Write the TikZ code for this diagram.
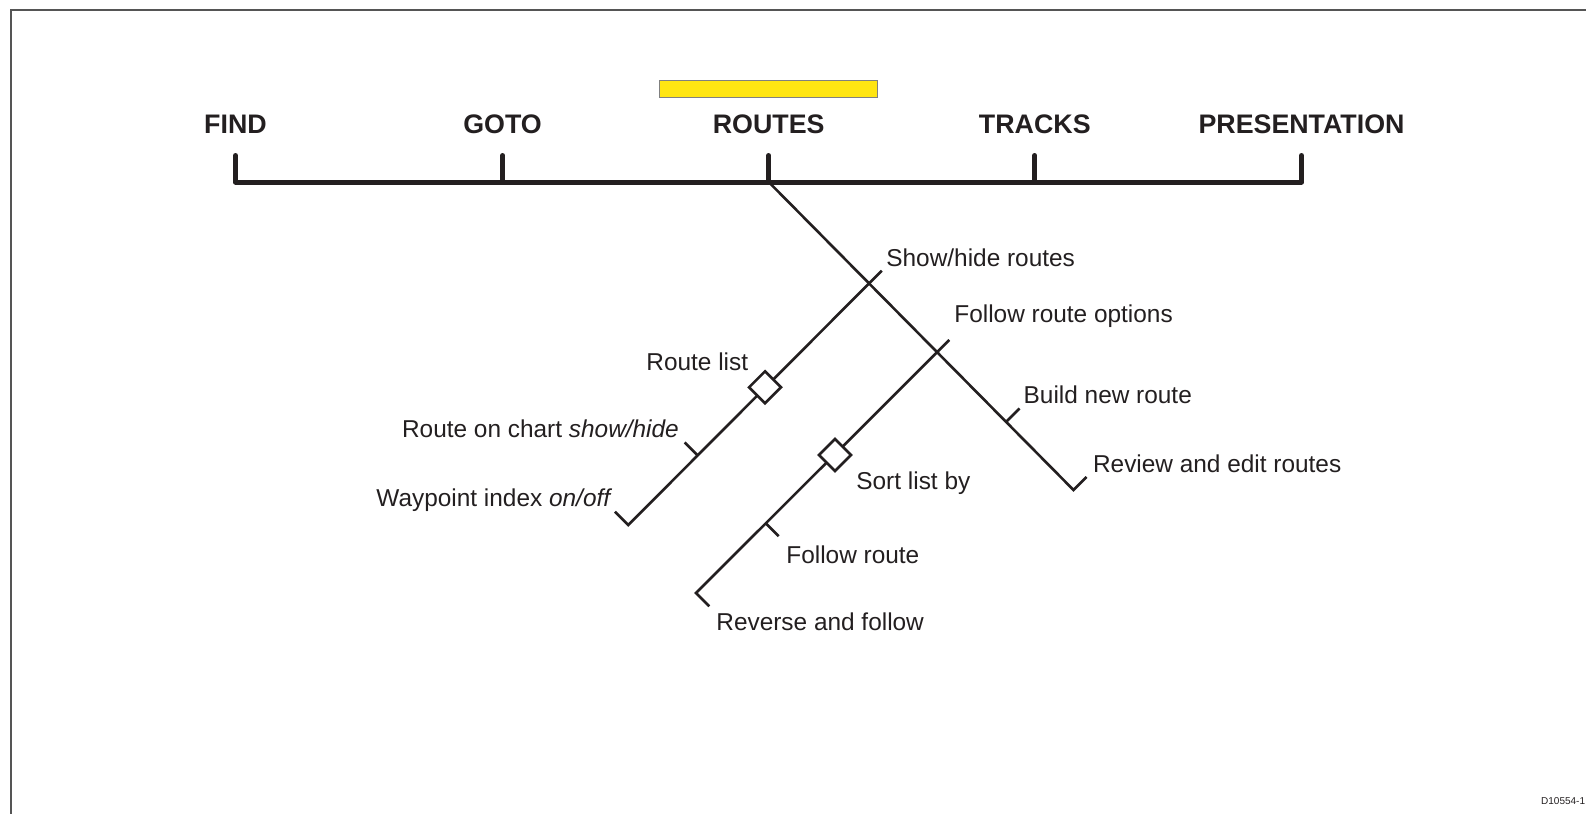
\documentclass[tikz,border=0pt]{standalone}
\usepackage{fontspec}
\setmainfont{Liberation Sans}
\usetikzlibrary{shapes.geometric}
\definecolor{ink}{RGB}{35,31,32}
\definecolor{framegray}{RGB}{85,85,85}
\definecolor{baryellow}{RGB}{255,229,18}
\begin{document}
\begin{tikzpicture}[x=0.5pt,y=-0.5pt,
  menu/.style={font=\fontsize{13.4}{15}\selectfont\bfseries,text=ink,inner sep=0pt,anchor=base},
  lbl/.style={font=\fontsize{12.2}{14}\selectfont,text=ink,inner sep=0pt,anchor=base west},
  bar/.style={draw=ink,line width=2.5pt,line cap=round,line join=round},
  thin/.style={draw=ink,line width=1.3pt,line join=miter},
  knot/.style={diamond,draw=ink,fill=white,line width=1.3pt,inner sep=0pt,minimum width=16.5pt,minimum height=16.5pt,aspect=1}]
\useasboundingbox (0,0) rectangle (1586,814);
% frame (left and top only visible)
\coordinate (fbl) at (10.5,814);
\coordinate (ftl) at (10.5,9.5);
\coordinate (ftr) at (1586,9.5);
\draw[framegray,line width=1pt] (fbl) -- (ftl) -- (ftr);
% yellow highlight bar
\node[draw=gray,fill=baryellow,line width=0.5pt,inner sep=0pt,minimum width=109pt,minimum height=8.5pt] (hl) at (768.7,88.5) {};
% menu labels
\node[menu] (find) at (235.5,133.3) {FIND};
\node[menu] (goto) at (502.6,133.3) {GOTO};
\node[menu] (routes) at (768.7,133.3) {ROUTES};
\node[menu] (tracks) at (1034.8,133.3) {TRACKS};
\node[menu] (pres) at (1301.5,133.3) {PRESENTATION};
% main bar
\coordinate (t1) at (235.5,155.5); \coordinate (b1) at (235.5,182);
\coordinate (t2) at (502.6,155.5); \coordinate (b2) at (502.6,182);
\coordinate (t3) at (768.7,155.5); \coordinate (b3) at (768.7,182);
\coordinate (t4) at (1034.8,155.5); \coordinate (b4) at (1034.8,182);
\coordinate (t5) at (1301.5,155.5); \coordinate (b5) at (1301.5,182);
\draw[bar] (t1) -- (b1) -- (b5) -- (t5);
\draw[bar] (t2) -- (b2);
\draw[bar] (t3) -- (b3);
\draw[bar] (t4) -- (b4);
% main diagonal
\coordinate (mend) at (1073.5,490);
\coordinate (mfoot) at (1086.5,477);
\draw[thin] (b3) -- (mend) -- (mfoot);
\coordinate (bnr) at (1006.5,421.5);
\coordinate (bnrt) at (1019.5,408.5);
\draw[thin] (bnr) -- (bnrt);
% branch 1: show/hide routes
\coordinate (s1top) at (881.7,270.7);
\coordinate (s1end) at (628.3,525);
\coordinate (s1foot) at (615,511.7);
\draw[thin] (s1top) -- (s1end) -- (s1foot);
\coordinate (rc) at (697.3,455);
\coordinate (rct) at (684.7,442.4);
\draw[thin] (rc) -- (rct);
\node[knot] (k1) at (765,387.3) {};
% branch 2: follow route options
\coordinate (s2top) at (949.3,340);
\coordinate (s2end) at (696,593);
\coordinate (s2foot) at (709.3,606.3);
\draw[thin] (s2top) -- (s2end) -- (s2foot);
\coordinate (fr) at (766,523.5);
\coordinate (frt) at (778.7,536.2);
\draw[thin] (fr) -- (frt);
\node[knot] (k2) at (835,455) {};
% labels
\node[lbl] (l1) at (886,266) {Show/hide routes};
\node[lbl] (l2) at (954,322.7) {Follow route options};
\node[lbl] (l3) at (646,370.7) {Route list};
\node[lbl] (l4) at (1023.3,403.3) {Build new route};
\node[lbl] (l5) at (401.7,437.7) {Route on chart \textit{show/hide}};
\node[lbl] (l6) at (1092.7,472.3) {Review and edit routes};
\node[lbl] (l7) at (856,489) {Sort list by};
\node[lbl] (l8) at (376,506.7) {Waypoint index \textit{on/off}};
\node[lbl] (l9) at (786,563.3) {Follow route};
\node[lbl] (l10) at (716,630) {Reverse and follow};
\node[font=\fontsize{5}{6}\selectfont,text=ink,inner sep=0pt,anchor=base east] (ref) at (1585.5,804) {D10554-1};
\end{tikzpicture}
\end{document}
